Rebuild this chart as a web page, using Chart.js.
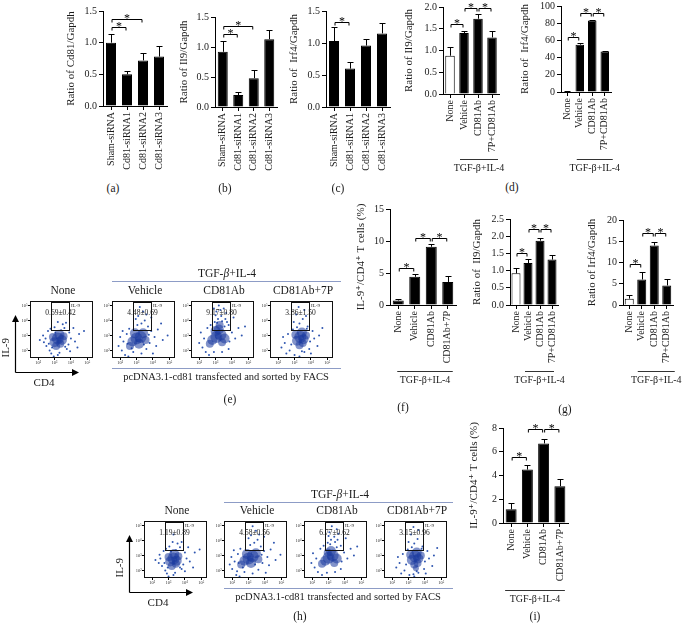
<!DOCTYPE html>
<html><head><meta charset="utf-8">
<script src="https://cdn.jsdelivr.net/npm/chart.js@4.4.1/dist/chart.umd.min.js"></script>
<style>
html,body{margin:0;padding:0;background:#fff;}
#fig{position:relative;width:683px;height:626px;overflow:hidden;background:#fff;font-family:"Liberation Serif","DejaVu Serif",serif;color:#1a1a1a;}
canvas{position:absolute;}
.lbl{position:absolute;transform:translate(-50%,-50%);white-space:nowrap;line-height:1;}
</style></head><body><div id="fig"></div>
<script>
// ---------------- DATA ----------------
const siRNALabels = ["Sham-siRNA","Cd81-siRNA1","Cd81-siRNA2","Cd81-siRNA3"];
const treatLabelsA = ["None","Vehicle","CD81Ab","7P+CD81Ab"];
const treatLabelsB = ["None","Vehicle","CD81Ab","CD81Ab+7P"];
const groupLabel = "TGF-β+IL-4";

const aMean = [1.0, 0.5, 0.72, 0.78];   const aErr = [0.14, 0.06, 0.11, 0.16];
const bMean = [0.92, 0.2, 0.48, 1.13];  const bErr = [0.18, 0.05, 0.14, 0.15];
const cMean = [1.03, 0.6, 0.96, 1.15];  const cErr = [0.22, 0.11, 0.11, 0.16];
const dIl9Mean = [0.88, 1.4, 1.73, 1.3];  const dIl9Err = [0.2, 0.04, 0.1, 0.14];
const dIrf4Mean = [0.5, 55, 83, 47];      const dIrf4Err = [0.5, 2, 1, 1];
const fMean = [0.7, 4.4, 9.1, 3.6];       const fErr = [0.3, 0.5, 0.5, 0.9];
const gIl9Mean = [0.92, 1.22, 1.87, 1.32]; const gIl9Err = [0.15, 0.11, 0.08, 0.13];
const gIrf4Mean = [1.5, 6, 14, 4.6];      const gIrf4Err = [0.9, 1.8, 0.8, 1.6];
const iMean = [1.15, 4.5, 6.7, 3.1];      const iErr = [0.55, 0.4, 0.4, 0.6];

// significance brackets: [from, to, level]
const aSig = [[0,1,1.25],[0,2,1.37]];
const bSig = [[0,1,1.22],[0,2,1.35]];
const cSig = [[0,1,1.33]];
const dIl9Sig = [[0,1,1.62],[1,2,1.97],[2,3,1.97]];
const dIrf4Sig = [[0,1,64],[1,2,92],[2,3,92]];
const fSig = [[0,1,5.8],[1,2,10.5],[2,3,10.5]];
const gIl9Sig = [[0,1,1.51],[1,2,2.2],[2,3,2.2]];
const gIrf4Sig = [[0,1,9.6],[1,2,17],[2,3,17]];
const iSig = [[0,1,5.56],[1,2,7.9],[2,3,7.9]];

// flow cytometry (log10 units): gate and percentages
const flowCols = ["None","Vehicle","CD81Ab","CD81Ab+7P"];
const gateX = [2.8, 3.9];
const gateY = [3.4, 5.2];
const ePct = ["0.69±0.42","4.48±0.69","9.17±0.80","3.86±1.50"];
const hPct = ["1.19±0.89","4.58±0.56","6.77±0.62","3.15±0.96"];
const flowTicks = [2,3,4,5];
const flowTickText = ["10²","10³","10⁴","10⁵"];

const eNoneCore = [[3.2,2.8,6],[3.45,2.7,5],[3.0,2.55,5],[3.3,3.05,5],[3.55,2.95,4],[3.1,2.3,4],[2.9,2.9,4],[3.35,2.45,4],[3.25,2.7,3]];
const eNoneDots = [[2.5,2.3],[2.6,3.3],[2.7,2.0],[2.45,2.8],[3.85,2.4],[3.9,3.2],[4.0,2.8],[3.6,3.5],[3.0,3.55],[2.8,1.8],[3.3,1.85],[3.75,2.1],[4.25,2.6],[2.35,2.55],[2.3,3.0],[3.2,3.9],[3.5,3.75],[4.5,3.1],[2.65,2.45],[3.95,1.95],[4.15,3.5],[3.7,3.85],[2.95,1.6],[3.2,1.7],[4.4,2.2],[2.1,2.7],[4.8,3.3],[2.75,3.45],[3.4,3.35],[3.05,3.2],[3.65,2.25],[2.85,2.2]];
const eVehCore = [[3.0,2.8,6],[3.25,2.9,6],[2.75,2.6,5],[3.4,3.15,5],[2.6,2.3,4],[3.55,2.7,4],[2.9,3.15,5],[3.15,2.45,5],[3.1,2.75,3]];
const eVehDots = [[2.1,2.0],[2.2,2.6],[2.3,1.7],[2.4,3.1],[2.0,2.9],[1.9,2.3],[3.8,2.5],[3.9,3.3],[4.1,2.9],[3.7,3.6],[4.3,3.4],[4.6,2.7],[3.05,3.7],[3.3,3.8],[3.5,4.0],[3.1,4.3],[3.4,4.6],[3.2,4.9],[3.6,4.4],[2.95,4.1],[2.5,1.6],[2.8,1.9],[3.3,1.8],[3.6,2.1],[4.0,1.8],[4.5,3.8],[4.9,3.0],[2.45,2.45],[2.55,3.45],[3.75,3.05],[2.7,2.15],[3.45,2.4],[4.2,2.3],[2.15,3.3],[3.9,4.2]];
const eCDCore = [[3.05,2.9,6],[3.3,3.05,6],[2.8,2.7,5],[3.2,3.4,5],[2.65,2.45,4],[3.55,2.8,5],[3.0,3.3,5],[3.4,2.55,4],[3.25,3.7,4],[3.15,2.95,3]];
const eCDDots = [[2.2,2.2],[2.3,2.8],[2.1,3.2],[2.4,1.9],[2.0,2.5],[3.85,2.6],[4.0,3.2],[4.2,2.8],[3.8,3.7],[4.4,3.5],[2.95,3.9],[3.15,4.1],[3.35,4.3],[3.05,4.6],[3.5,4.8],[3.2,5.0],[3.65,4.5],[3.0,4.35],[3.4,3.95],[3.6,4.1],[2.9,4.8],[3.3,4.7],[3.7,3.9],[2.6,1.7],[2.9,1.9],[3.4,1.9],[3.8,2.1],[4.6,3.0],[4.8,3.6],[2.5,3.5],[2.7,3.7],[3.1,3.85],[3.55,3.6],[4.1,4.2]];
const e7PCore = [[3.35,2.9,6],[3.55,2.75,5],[3.15,2.65,5],[3.45,3.2,5],[3.7,3.0,4],[3.3,2.35,4],[3.05,3.05,4],[3.5,2.5,4],[3.4,2.85,3]];
const e7PDots = [[2.4,2.5],[2.6,3.1],[2.7,2.0],[2.3,2.9],[2.5,1.8],[3.95,2.6],[4.1,3.3],[4.2,2.8],[3.8,3.6],[4.5,3.0],[3.3,3.8],[3.5,4.1],[3.1,4.4],[3.6,4.7],[3.25,4.9],[3.7,4.3],[2.95,3.9],[3.0,1.7],[3.3,1.6],[3.6,1.9],[3.9,2.1],[4.4,2.3],[4.7,3.5],[2.8,2.4],[2.9,3.4],[3.75,3.45],[4.0,1.8],[3.45,1.95],[2.2,2.2],[3.15,3.55]];

const hNoneCore = [[3.3,2.8,6],[3.5,2.65,5],[3.1,2.6,5],[3.35,3.1,5],[3.6,2.95,4],[3.2,2.3,4],[3.0,2.9,4],[3.45,2.45,4],[3.35,2.75,3]];
const hNoneDots = [[2.6,2.3],[2.7,3.3],[2.8,2.0],[2.5,2.8],[3.9,2.4],[4.0,3.2],[4.1,2.8],[3.7,3.55],[3.05,3.6],[2.9,1.8],[3.4,1.85],[3.8,2.1],[4.3,2.6],[2.4,2.5],[2.45,3.05],[3.25,3.9],[3.55,3.8],[4.6,3.2],[2.75,2.5],[4.0,1.95],[4.2,3.55],[3.8,3.9],[3.0,1.6],[3.3,1.7],[4.5,2.2],[2.2,2.7],[4.9,3.4],[2.85,3.45],[3.45,3.35],[3.15,3.25],[3.7,2.2],[2.95,2.2],[3.3,4.4]];
const hVehCore = [[3.0,2.8,6],[3.25,2.95,6],[2.75,2.65,5],[3.45,3.15,5],[2.55,2.4,4],[3.6,2.75,4],[2.9,3.1,5],[3.15,2.5,5],[3.1,2.8,3]];
const hVehDots = [[2.0,2.1],[2.15,2.6],[2.25,1.7],[2.35,3.1],[1.95,2.9],[1.85,2.4],[3.85,2.5],[3.95,3.3],[4.15,2.9],[3.75,3.6],[4.35,3.4],[4.65,2.7],[3.1,3.7],[3.35,3.85],[3.55,4.05],[3.15,4.35],[3.45,4.65],[3.25,4.95],[3.65,4.4],[3.0,4.15],[2.45,1.6],[2.75,1.9],[3.25,1.8],[3.6,2.05],[4.05,1.85],[4.55,3.85],[4.95,3.05],[2.4,2.5],[2.5,3.45],[3.8,3.05],[2.65,2.2],[3.4,2.4],[4.25,2.35],[2.1,3.35],[3.95,4.25],[2.3,1.95]];
const hCDCore = [[3.0,2.85,6],[3.25,3.0,6],[2.8,2.65,5],[3.15,3.3,5],[2.6,2.45,4],[3.5,2.8,5],[2.95,3.2,4],[3.35,2.5,4],[3.1,2.9,3]];
const hCDDots = [[2.15,2.2],[2.25,2.8],[2.05,3.15],[2.35,1.9],[1.95,2.5],[3.8,2.6],[3.95,3.2],[4.15,2.8],[3.75,3.65],[4.35,3.45],[2.95,3.85],[3.15,4.05],[3.35,4.25],[3.05,4.55],[3.5,4.75],[3.2,4.95],[3.6,4.45],[3.0,4.3],[3.4,3.9],[3.55,4.05],[2.6,1.7],[2.9,1.85],[3.4,1.9],[3.75,2.1],[4.55,3.0],[4.75,3.6],[2.5,3.45],[2.7,3.65],[3.1,3.75],[3.5,3.55],[4.05,4.15]];
const h7PCore = [[3.4,2.95,6],[3.6,2.8,5],[3.2,2.7,5],[3.5,3.2,5],[3.75,3.0,4],[3.35,2.4,4],[3.1,3.05,4],[3.55,2.5,4],[3.45,2.15,3],[3.45,2.85,3]];
const h7PDots = [[2.45,2.5],[2.65,3.1],[2.75,2.0],[2.35,2.9],[2.55,1.8],[4.0,2.6],[4.15,3.3],[4.25,2.8],[3.85,3.6],[4.55,3.0],[3.35,3.8],[3.55,4.1],[3.15,4.4],[3.6,4.7],[3.3,4.9],[3.0,3.9],[3.05,1.7],[3.35,1.6],[3.6,1.85],[3.95,2.1],[4.45,2.3],[4.75,3.5],[2.85,2.4],[2.95,3.4],[3.8,3.45],[4.05,1.8],[3.5,1.95],[2.25,2.2],[3.2,3.55],[3.3,1.75]];

// ---------------- RENDER ----------------
const FONT = '"Liberation Serif","DejaVu Serif",serif';
Chart.defaults.font.family = FONT;
Chart.defaults.color = '#1a1a1a';
Chart.defaults.animation = false;
const fig = document.getElementById('fig');

function addText(html, x, y, size, rot) {
  const d = document.createElement('div');
  d.className = 'lbl'; d.innerHTML = html;
  d.style.left = x + 'px'; d.style.top = y + 'px'; d.style.fontSize = size + 'px';
  if (rot) d.style.transform = 'translate(-50%,-50%) rotate(-90deg)';
  fig.appendChild(d);
}
function addLine(x1, x2, y, color) {
  const d = document.createElement('div');
  d.style.cssText = `position:absolute;left:${x1}px;top:${y}px;width:${x2-x1}px;height:0;border-top:1px solid ${color};`;
  fig.appendChild(d);
}
function newCanvas(left, top, w, h) {
  const cv = document.createElement('canvas');
  cv.width = w; cv.height = h;
  cv.style.left = left + 'px'; cv.style.top = top + 'px';
  cv.style.width = w + 'px'; cv.style.height = h + 'px';
  fig.appendChild(cv);
  return cv;
}

function extrasPlugin(cfg) {
  return {
    id: 'extras_' + cfg.key,
    afterDatasetsDraw(chart) {
      const ctx = chart.ctx, xs = chart.scales.x, ys = chart.scales.y, a = chart.chartArea;
      ctx.save();
      ctx.strokeStyle = '#000'; ctx.lineWidth = 1; ctx.fillStyle = '#000';
      // error bars (upper)
      cfg.values.forEach((v, i) => {
        const x = Math.round(xs.getPixelForValue(i)) + 0.5;
        const y1 = ys.getPixelForValue(v), y2 = Math.round(ys.getPixelForValue(v + cfg.errors[i])) + 0.5;
        ctx.beginPath(); ctx.moveTo(x, y1); ctx.lineTo(x, y2);
        ctx.moveTo(x - 3, y2); ctx.lineTo(x + 3, y2); ctx.stroke();
      });
      // significance brackets
      ctx.font = '12px ' + FONT; ctx.textAlign = 'center'; ctx.textBaseline = 'alphabetic';
      cfg.sig.forEach(([i, j, lev]) => {
        const xi = xs.getPixelForValue(i) + 1, xj = xs.getPixelForValue(j) - 1;
        const y = Math.round(ys.getPixelForValue(lev)) + 0.5;
        ctx.beginPath(); ctx.moveTo(xi, y + 3); ctx.lineTo(xi, y); ctx.lineTo(xj, y); ctx.lineTo(xj, y + 3); ctx.stroke();
        ctx.fillText('*', (xi + xj) / 2, y + 2.5);
      });
      // treatment group line
      if (cfg.group) {
        const g = cfg.group;
        const x1 = xs.getPixelForValue(g.from) - g.l, x2 = xs.getPixelForValue(g.to) + g.r;
        const y = a.bottom + g.dy + 0.5;
        ctx.strokeStyle = '#333';
        ctx.beginPath(); ctx.moveTo(x1, y); ctx.lineTo(x2, y); ctx.stroke();
        ctx.font = '10px ' + FONT; ctx.textBaseline = 'middle'; ctx.fillStyle = '#1a1a1a';
        ctx.fillText(groupLabel, (x1 + x2) / 2, y + 9);
      }
      ctx.restore();
    }
  };
}

function makeBar(cfg) {
  const YW = cfg.axisX - cfg.titleX + 7;
  const padTop = 12, padRight = 10;
  const XH = cfg.group ? cfg.group.dy + 20 : 70;
  const plotW = cfg.spacing * cfg.labels.length;
  const plotH = cfg.y0 - cfg.yTop;
  const W = YW + plotW + padRight, H = padTop + plotH + XH;
  const cv = newCanvas(cfg.axisX - YW, cfg.yTop - padTop, W, H);
  const font = {family: FONT, size: 10};
  new Chart(cv, {
    type: 'bar',
    data: {labels: cfg.labels, datasets: [{
      data: cfg.values,
      backgroundColor: cfg.values.map((v, i) => (cfg.white && cfg.white[i]) ? '#fff' : '#000'),
      borderColor: '#000', borderWidth: 1,
      barPercentage: cfg.bw / cfg.spacing, categoryPercentage: 1
    }]},
    options: {
      responsive: false, animation: false, devicePixelRatio: 1,
      layout: {padding: {top: padTop, right: padRight, left: 0, bottom: 0}},
      plugins: {legend: {display: false}, tooltip: {enabled: false}},
      scales: {
        x: {
          offset: true,
          grid: {display: true, drawOnChartArea: false, offset: false, tickLength: 4, color: '#000', tickColor: '#000'},
          border: {display: true, color: '#000', width: 1},
          ticks: {minRotation: 90, maxRotation: 90, autoSkip: false, font: font, color: '#1a1a1a', padding: 2},
          afterFit: s => { s.height = XH; }
        },
        y: {
          min: 0, max: cfg.max,
          ticks: {stepSize: cfg.step, font: font, color: '#1a1a1a', padding: 2,
                  callback: v => Number(v).toFixed(cfg.dec)},
          grid: {display: true, drawOnChartArea: false, tickLength: 4, color: '#000', tickColor: '#000'},
          border: {display: true, color: '#000', width: 1},
          title: {display: true, text: cfg.title, font: {family: FONT, size: 11}, color: '#1a1a1a', padding: 0},
          afterFit: s => { s.width = YW; }
        }
      }
    },
    plugins: [extrasPlugin(cfg)]
  });
}

const barPanels = [
  {key:'a', labels: siRNALabels, values: aMean, errors: aErr, sig: aSig, axisX:103, titleX:72, yTop:11, y0:106, spacing:16, bw:10, max:1.5, step:0.5, dec:1, title:'Ratio of Cd81/Gapdh'},
  {key:'b', labels: siRNALabels, values: bMean, errors: bErr, sig: bSig, axisX:215, titleX:185, yTop:17, y0:107, spacing:15.5, bw:10, max:1.5, step:0.5, dec:1, title:'Ratio of Il9/Gapdh'},
  {key:'c', labels: siRNALabels, values: cMean, errors: cErr, sig: cSig, axisX:326, titleX:295, yTop:11, y0:107, spacing:16, bw:10, max:1.5, step:0.5, dec:1, title:'Ratio of  Irf4/Gapdh'},
  {key:'d1', labels: treatLabelsA, values: dIl9Mean, errors: dIl9Err, sig: dIl9Sig, white:[true,false,false,false], axisX:443, titleX:410, yTop:7, y0:94, spacing:14, bw:9.5, max:2.0, step:0.5, dec:1, title:'Ratio of Il9/Gapdh', group:{from:1,to:3,l:4,r:6,dy:65}},
  {key:'d2', labels: treatLabelsA, values: dIrf4Mean, errors: dIrf4Err, sig: dIrf4Sig, white:[true,false,false,false], axisX:561, titleX:526, yTop:6, y0:92, spacing:12.5, bw:8.5, max:100, step:20, dec:0, title:'Ratio of  Irf4/Gapdh', group:{from:1,to:3,l:3,r:8,dy:67}},
  {key:'f', labels: treatLabelsB, values: fMean, errors: fErr, sig: fSig, axisX:390, titleX:362, yTop:209, y0:305, spacing:16.5, bw:11, max:15, step:5, dec:0, title:'IL-9⁺/CD4⁺ T cells (%)', group:{from:0,to:3,l:1,r:5,dy:66}},
  {key:'g1', labels: treatLabelsA, values: gIl9Mean, errors: gIl9Err, sig: gIl9Sig, white:[true,false,false,false], axisX:510, titleX:478, yTop:219, y0:305, spacing:12, bw:9, max:2.5, step:0.5, dec:1, title:'Ratio of  Il9/Gapdh', group:{from:1,to:3,l:3,r:2,dy:66}},
  {key:'g2', labels: treatLabelsA, values: gIrf4Mean, errors: gIrf4Err, sig: gIrf4Sig, white:[true,false,false,false], axisX:623, titleX:593, yTop:220, y0:305, spacing:12.5, bw:9, max:20, step:5, dec:0, title:'Ratio of Irf4/Gapdh', group:{from:1,to:3,l:4,r:8,dy:66}},
  {key:'i', labels: treatLabelsB, values: iMean, errors: iErr, sig: iSig, axisX:503, titleX:475, yTop:428, y0:523, spacing:16.3, bw:11, max:8, step:2, dec:0, title:'IL-9⁺/CD4⁺ T cells (%)', group:{from:0,to:3,l:6,r:5,dy:67}}
];
barPanels.forEach(makeBar);

// ---------- flow cytometry panels ----------
function flowPlugin(cfg) {
  return {
    id: 'flow_' + cfg.key,
    afterDatasetsDraw(chart) {
      const ctx = chart.ctx, a = chart.chartArea, x = chart.scales.x, y = chart.scales.y;
      ctx.save();
      ctx.strokeStyle = '#111'; ctx.lineWidth = 1;
      ctx.strokeRect(a.left + 0.5, a.top + 0.5, a.right - a.left - 1, a.bottom - a.top - 1);
      const gx1 = Math.round(x.getPixelForValue(gateX[0])) + 0.5, gx2 = Math.round(x.getPixelForValue(gateX[1])) + 0.5;
      const gy1 = Math.round(y.getPixelForValue(gateY[1])) + 0.5, gy2 = Math.round(y.getPixelForValue(gateY[0])) + 0.5;
      ctx.strokeRect(gx1, gy1, gx2 - gx1, gy2 - gy1);
      ctx.fillStyle = '#222'; ctx.textAlign = 'center'; ctx.textBaseline = 'middle';
      ctx.font = '7.5px ' + FONT;
      ctx.fillText(cfg.pct, (gx1 + gx2) / 2, a.top + 12);
      ctx.font = '5px ' + FONT; ctx.textAlign = 'left';
      ctx.fillText('IL-9', gx2 + 1.5, a.top + 5);
      if (cfg.arrows) {
        const ax = a.left - 14.5, top = a.top + 14, bot = a.bottom + 14.5, right = a.left + 49;
        ctx.fillStyle = '#000'; ctx.strokeStyle = '#000'; ctx.lineWidth = 1.2;
        ctx.beginPath(); ctx.moveTo(ax, bot); ctx.lineTo(ax, top + 5); ctx.moveTo(ax, bot); ctx.lineTo(right - 5, bot); ctx.stroke();
        ctx.beginPath(); ctx.moveTo(ax, top); ctx.lineTo(ax - 3.5, top + 7); ctx.lineTo(ax + 3.5, top + 7); ctx.closePath(); ctx.fill();
        ctx.beginPath(); ctx.moveTo(right, bot); ctx.lineTo(right - 7, bot - 3.5); ctx.lineTo(right - 7, bot + 3.5); ctx.closePath(); ctx.fill();
        ctx.font = '11px ' + FONT; ctx.fillStyle = '#1a1a1a'; ctx.textAlign = 'center';
        ctx.save(); ctx.translate(ax - 9, (top + bot) / 2 + 4); ctx.rotate(-Math.PI / 2); ctx.fillText('IL-9', 0, 0); ctx.restore();
        ctx.fillText('CD4', a.left + 14, bot + 11);
      }
      ctx.restore();
    }
  };
}

function makeFlow(cfg) {
  const YW = 13, XH = 8, padTop = 3, padRight = 2;
  const exL = cfg.arrows ? 17 : 0, exB = cfg.arrows ? 25 : 0;
  const W = exL + YW + cfg.w + padRight, H = padTop + cfg.h + XH + exB;
  const cv = newCanvas(cfg.left - YW - exL, cfg.top - padTop, W, H);
  const tickFont = {family: FONT, size: 4.5};
  new Chart(cv, {
    type: 'scatter',
    data: {datasets: [
      {type: 'bubble', data: cfg.core.map(p => ({x: p[0], y: p[1], r: p[2]})),
       backgroundColor: 'rgba(28,58,158,0.55)', borderWidth: 0},
      {type: 'scatter', data: cfg.dots.map(p => ({x: p[0], y: p[1]})),
       pointRadius: 1, backgroundColor: '#2f56b0', borderWidth: 0}
    ]},
    options: {
      responsive: false, animation: false, devicePixelRatio: 1,
      layout: {padding: {top: padTop, right: padRight, left: exL, bottom: exB}},
      plugins: {legend: {display: false}, tooltip: {enabled: false}},
      scales: {
        x: {type: 'linear', min: 1.5, max: 5.35,
            afterBuildTicks: s => { s.ticks = flowTicks.map(v => ({value: v})); },
            ticks: {font: tickFont, color: '#333', padding: 0.5, maxRotation: 0,
                    callback: v => flowTickText[flowTicks.indexOf(v)]},
            grid: {drawOnChartArea: false, tickLength: 2, color: '#000'},
            border: {display: false},
            afterFit: s => { s.height = XH; }},
        y: {type: 'linear', min: 1.5, max: 5.3,
            afterBuildTicks: s => { s.ticks = flowTicks.map(v => ({value: v})); },
            ticks: {font: tickFont, color: '#333', padding: 0.5,
                    callback: v => flowTickText[flowTicks.indexOf(v)]},
            grid: {drawOnChartArea: false, tickLength: 2, color: '#000'},
            border: {display: false},
            afterFit: s => { s.width = YW; }}
      }
    },
    plugins: [flowPlugin(cfg)]
  });
}

const eLefts = [30, 112, 191, 270], hLefts = [144, 224, 304, 384];
const eCores = [eNoneCore, eVehCore, eCDCore, e7PCore], eDots = [eNoneDots, eVehDots, eCDDots, e7PDots];
const hCores = [hNoneCore, hVehCore, hCDCore, h7PCore], hDots = [hNoneDots, hVehDots, hCDDots, h7PDots];
eLefts.forEach((l, i) => makeFlow({key: 'e' + i, left: l, top: 298, w: 67, h: 60, core: eCores[i], dots: eDots[i], pct: ePct[i], arrows: i === 0}));
hLefts.forEach((l, i) => makeFlow({key: 'h' + i, left: l, top: 518, w: 67, h: 60, core: hCores[i], dots: hDots[i], pct: hPct[i], arrows: i === 0}));

// flow headers and captions
const HEAD = 'TGF-<i>β</i>+IL-4';
addText(HEAD, 227, 274, 11.5); addLine(112, 341, 281, '#8d9cc6');
addText(HEAD, 340, 495, 11.5); addLine(224, 453, 502, '#8d9cc6');
eLefts.forEach((l, i) => addText(flowCols[i], l + 33, 291, 11.5));
hLefts.forEach((l, i) => addText(flowCols[i], l + 33, 511, 11.5));
addLine(112, 341, 368, '#8d9cc6');
addLine(224, 453, 588, '#8d9cc6');
addText('pcDNA3.1-cd81 transfected and sorted by FACS', 226, 377, 10.5);
addText('pcDNA3.1-cd81 transfected and sorted by FACS', 338, 597, 10.5);

// panel letters
[['(a)',113,189],['(b)',225,189],['(c)',338,189],['(d)',512,188],['(e)',230,400],['(f)',403,408],['(g)',565,410],['(h)',300,617],['(i)',535,617]]
  .forEach(([t, x, y]) => addText(t, x, y, 11.5));
</script>
</body></html>
